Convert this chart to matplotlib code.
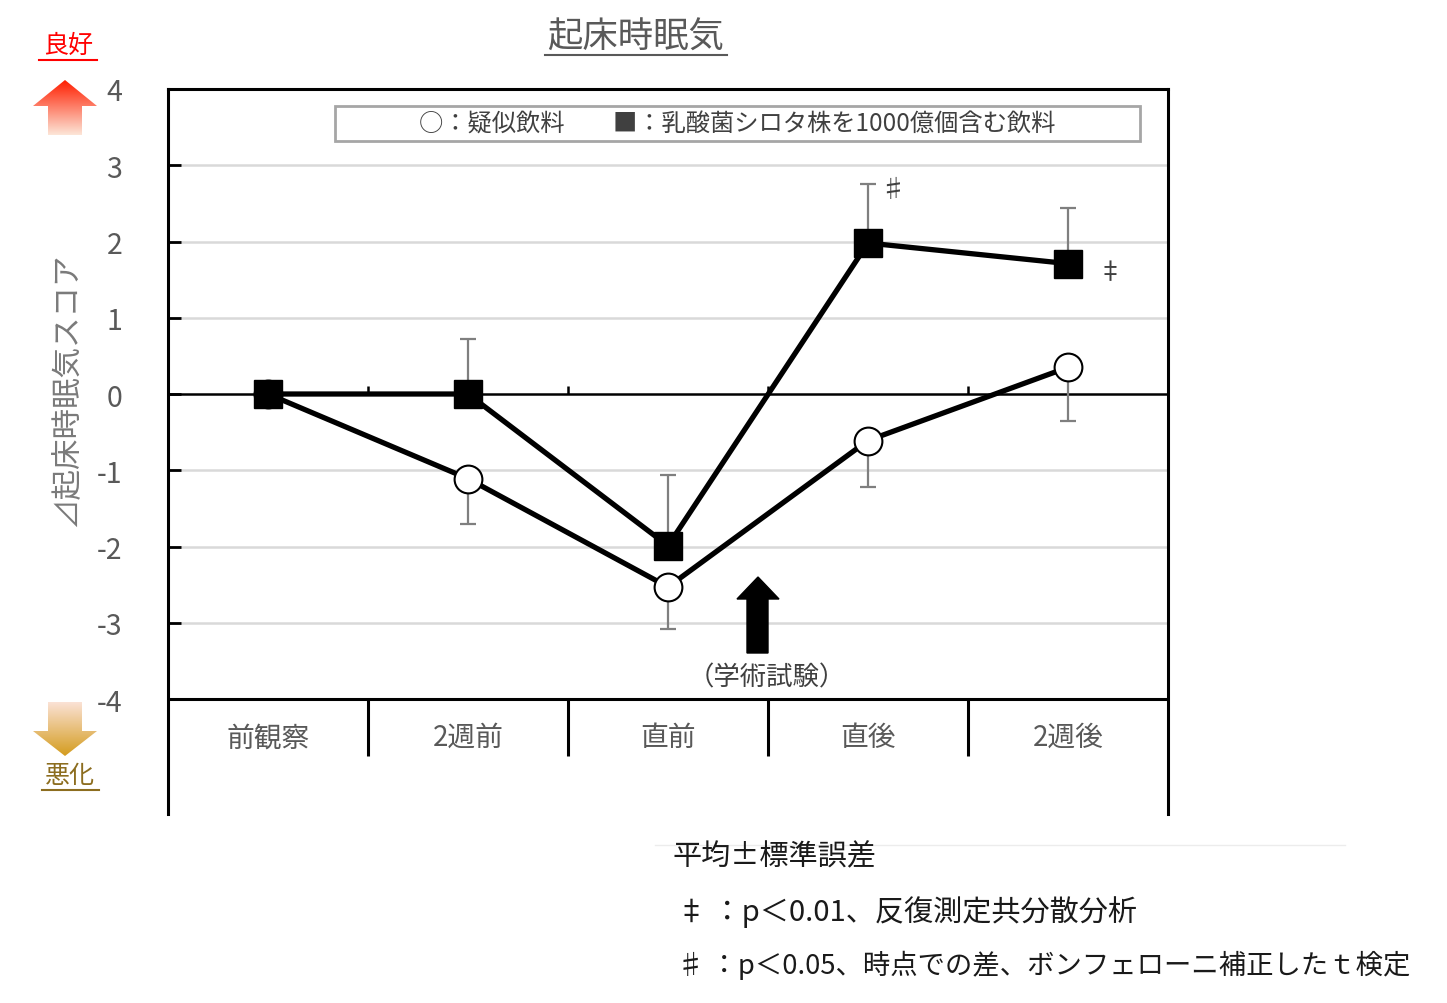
import numpy as np
import matplotlib
matplotlib.use('Agg')
import matplotlib.pyplot as plt
from matplotlib.patches import Polygon, Rectangle
from matplotlib.colors import to_rgba

plt.rcParams['font.family'] = ['Noto Sans CJK JP', 'DejaVu Sans']

# ---------------- data ----------------
categories = ['前観察', '2週前', '直前', '直後', '2週後']
placebo = [0.0, -1.11, -2.53, -0.61, 0.35]
placebo_se = [0.0, 0.60, 0.55, 0.61, 0.71]
shirota = [0.0, 0.0, -1.99, 1.98, 1.71]
shirota_se = [0.0, 0.72, 0.93, 0.78, 0.73]
yticks = [-4, -3, -2, -1, 0, 1, 2, 3, 4]
title = '起床時眠気'
ylabel = '⊿起床時眠気スコア'
legend_text = '○：疑似飲料　　■：乳酸菌シロタ株を1000億個含む飲料'
event_text = '（学術試験）'
notes = ['平均±標準誤差',
         '‡ ：p＜0.01、反復測定共分散分析',
         '♯ ：p＜0.05、時点での差、ボンフェローニ補正したｔ検定']
good_label = '良好'
bad_label = '悪化'

W, H = 1447, 1004
fig = plt.figure(figsize=(W / 100, H / 100), dpi=100)
ax = fig.add_axes([168 / W, 1 - 815 / H, 1000 / W, 725 / H])
x = np.arange(len(categories))
ax.set_xlim(-0.5, len(categories) - 0.5)
ax.set_ylim(-5.508, 4)

gray_txt = '#595959'

# grid
for yv in yticks:
    if yv in (-4, 0, 4):
        continue
    ax.axhline(yv, color='#d9d9d9', lw=1.8, zorder=0)
ax.axhline(0, color='black', lw=1.8, zorder=1)
ax.axhline(-4, color='black', lw=2.2, zorder=1)
# category separators and small ticks on zero line
for b in np.arange(0.5, len(categories) - 0.5, 1):
    ax.plot([b, b], [-4, -4.75], color='black', lw=2.2, zorder=1, solid_capstyle='butt')
    ax.plot([b, b], [0, 0.1], color='black', lw=1.8, zorder=1, solid_capstyle='butt')

ax.spines['bottom'].set_visible(False)
for s in ('left', 'right', 'top'):
    ax.spines[s].set_linewidth(2.2)
    ax.spines[s].set_color('black')

ax.set_xticks([])
ax.set_yticks(yticks)
ax.set_yticklabels([str(v) for v in yticks], fontsize=20.5, color=gray_txt)
ax.tick_params(axis='y', direction='in', length=9, width=2, pad=33)
for lab in ax.get_yticklabels():
    lab.set_horizontalalignment('right')

for xi, c in zip(x, categories):
    ax.text(xi, -4.5, c, ha='center', va='center', fontsize=20, color=gray_txt)

# error bars (one-sided)
p = np.array(placebo); pse = np.array(placebo_se)
s = np.array(shirota); sse = np.array(shirota_se)
m = pse > 0
ax.errorbar(x[m], p[m], yerr=[pse[m], np.zeros(m.sum())], fmt='none',
            ecolor='#7f7f7f', elinewidth=1.6, capsize=6, capthick=1.6, zorder=2)
m2 = sse > 0
ax.errorbar(x[m2], s[m2], yerr=[np.zeros(m2.sum()), sse[m2]], fmt='none',
            ecolor='#7f7f7f', elinewidth=1.6, capsize=6, capthick=1.6, zorder=2)

ax.plot(x, p, '-', color='black', lw=3.8, zorder=3)
ax.plot(x, p, 'o', ms=20, mfc='white', mec='black', mew=1.5, zorder=4)
ax.plot(x, s, '-', color='black', lw=3.8, zorder=5)
ax.plot(x, s, 's', ms=20, mfc='black', mec='black', zorder=6)

# ---------------- overlay (pixel coords) ----------------
ov = fig.add_axes([0, 0, 1, 1], zorder=10)
ov.set_xlim(0, W)
ov.set_ylim(H, 0)
ov.axis('off')
ov.patch.set_visible(False)

# legend box
ov.add_patch(Rectangle((335, 107), 805, 35, fill=True, fc='white', ec='#a6a6a6', lw=2))
ov.text(737, 125, legend_text, ha='center', va='center', fontsize=17.5, color='#404040')

# title
ov.text(636, 38, title, ha='center', va='center', fontsize=25.5, color=gray_txt)
ov.plot([545, 727], [56, 56], color=gray_txt, lw=1.5)

# y label
ov.text(68, 390, ylabel, ha='center', va='center', rotation=90, fontsize=22, color='#7a7a7a')

# significance marks
ov.text(893, 190, '♯', ha='center', va='center', fontsize=18, color='#404040')
ov.text(1110, 273, '‡', ha='center', va='center', fontsize=18, color='#404040')


def gradient_arrow(pts, top_c, bot_c):
    poly = Polygon(pts, closed=True, fc='none', ec='none')
    ov.add_patch(poly)
    ys = [q[1] for q in pts]; xs = [q[0] for q in pts]
    t = np.linspace(0, 1, 256)[:, None]
    c0 = np.array(to_rgba(top_c)); c1 = np.array(to_rgba(bot_c))
    img = (c0 * (1 - t) + c1 * t)[:, None, :]
    im = ov.imshow(img, extent=[min(xs), max(xs), max(ys), min(ys)], aspect='auto',
                   interpolation='bilinear', zorder=11)
    im.set_clip_path(poly)


up = [(65, 81), (97, 107), (82, 107), (82, 136), (48, 136), (48, 107), (33, 107)]
gradient_arrow(up, '#ff1e00', '#fce6d8')
down = [(48, 703), (82, 703), (82, 732), (97, 732), (65, 757), (33, 732), (48, 732)]
gradient_arrow(down, '#fbe2d6', '#d49c1e')

ov.text(68, 46, good_label, ha='center', va='center', fontsize=18, color='#ff0000')
ov.plot([39, 97], [61, 61], color='#ff0000', lw=1.5)
ov.text(70, 776, bad_label, ha='center', va='center', fontsize=18, color='#8c6d1f')
ov.plot([42, 99], [791, 791], color='#8c6d1f', lw=1.5)

# event arrow
ev = [(758, 578), (779, 600), (768, 600), (768, 654), (747, 654), (747, 600), (737, 600)]
ov.add_patch(Polygon(ev, closed=True, fc='black', ec='black'))
ov.text(767, 678, event_text, ha='center', va='center', fontsize=19, color='#404040')

# notes
ov.plot([655, 1345], [846, 846], color='#ececec', lw=1)
ov.text(672, 857, notes[0], ha='left', va='center', fontsize=21, color='#1a1a1a')
ov.text(677, 912, notes[1], ha='left', va='center', fontsize=21, color='#1a1a1a')
ov.text(677, 965, notes[2], ha='left', va='center', fontsize=19.7, color='#1a1a1a')

fig.savefig('out.png', dpi=100)
